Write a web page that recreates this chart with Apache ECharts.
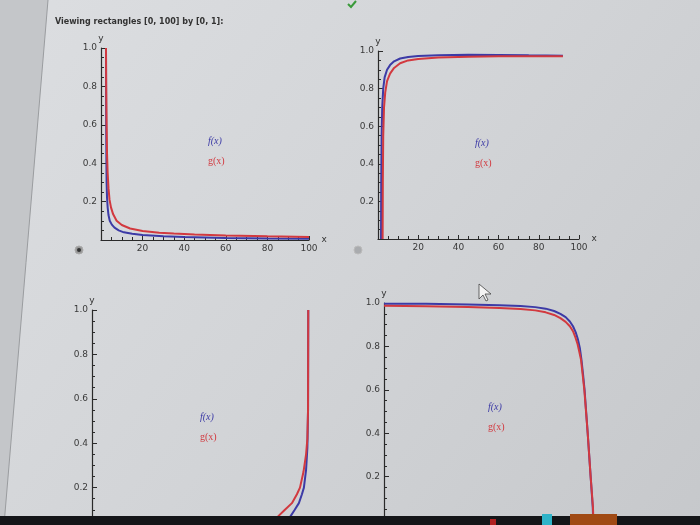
<!DOCTYPE html>
<html><head><meta charset="utf-8">
<script src="https://cdn.jsdelivr.net/npm/echarts@6/dist/echarts.min.js"></script>
<style>html,body{margin:0;padding:0;background:#d3d5d8;overflow:hidden}#c{width:700px;height:545px}</style>
</head><body><div id="c"></div>
<script>
// ---- data ----
const titleText = 'Viewing rectangles [0, 100] by [0, 1]:';
const xTicks = [20, 40, 60, 80, 100];
const yTicks = [0.2, 0.4, 0.6, 0.8, 1.0];
// panel 1 (top-left)
const f1 = [[2.4,1.0],[2.5,0.6],[2.6,0.4],[2.7,0.3],[2.9,0.22],[3.2,0.17],[3.6,0.13],[4.2,0.1],[5.2,0.08],[6.5,0.064],[8.5,0.05],[11,0.04],[15,0.032],[20,0.026],[30,0.019],[40,0.015],[60,0.011],[80,0.008],[100,0.006]];
const g1 = [[2.4,1.0],[2.5,0.8],[2.7,0.6],[2.9,0.45],[3.2,0.35],[3.6,0.27],[4.1,0.21],[4.8,0.17],[5.8,0.135],[7.5,0.1],[10,0.078],[14,0.06],[20,0.047],[28,0.038],[35,0.034],[45,0.029],[60,0.024],[80,0.019],[100,0.015]];
// panel 2 (top-right)
const f2 = [[1.5,0],[1.6,0.3],[1.8,0.55],[2.1,0.7],[2.6,0.8],[3.3,0.86],[4.5,0.9],[6,0.925],[8,0.945],[11,0.96],[15,0.968],[20,0.974],[30,0.978],[45,0.98],[60,0.979],[75,0.977],[92,0.975]];
const g2 = [[2.3,0],[2.4,0.3],[2.6,0.55],[3.0,0.7],[3.6,0.78],[4.5,0.84],[6,0.88],[8,0.91],[11,0.935],[15,0.95],[20,0.958],[30,0.965],[45,0.97],[60,0.972],[75,0.972],[92,0.972]];
// panel 3 (bottom-left)
const f3 = [[85,0],[88,0.035],[90.8,0.067],[93,0.1],[94.9,0.13],[96.3,0.17],[97.2,0.2],[98.2,0.28],[98.8,0.38],[99.1,0.55],[99.2,1.0]];
const g3 = [[75,0],[80,0.03],[85,0.067],[88.5,0.1],[91.7,0.13],[94,0.17],[95.4,0.2],[97,0.27],[98.2,0.35],[98.8,0.42],[99.1,0.55],[99.2,1.0]];
// panel 4 (bottom-right)
const f4 = [[0,0.997],[20,0.996],[40,0.993],[55,0.99],[65,0.986],[72,0.981],[77,0.974],[81,0.963],[84,0.95],[86.5,0.935],[88.5,0.915],[90,0.893],[91.3,0.865],[92.4,0.83],[93.3,0.79],[94,0.74],[94.8,0.67],[95.5,0.6],[97,0.4],[98.4,0.2],[99.4,0.06],[99.6,0]];
const g4 = [[0,0.987],[20,0.985],[40,0.981],[55,0.977],[65,0.972],[72,0.966],[77,0.957],[81,0.945],[84,0.93],[86.5,0.913],[88.5,0.893],[90,0.87],[91.2,0.84],[92.2,0.81],[93,0.775],[93.8,0.74],[94.6,0.67],[95.4,0.6],[97,0.4],[98.4,0.2],[99.5,0.06],[99.7,0]];

const blue = '#3c3aa6', red = '#d2393f';
const panels = [
  {grid:{left:101, top:48, width:208, height:192}, f:f1, g:g1, lab:[208,142]},
  {grid:{left:378, top:51, width:201, height:188}, f:f2, g:g2, lab:[475,144]},
  {grid:{left:92, top:310, width:218, height:222}, f:f3, g:g3, lab:[200,418]},
  {grid:{left:384, top:303, width:210, height:217}, f:f4, g:g4, lab:[488,408]}
];

const axisColor = '#2a2a2a';
const grids = [], xAxes = [], yAxes = [], series = [], graphics = [];

// background decorations
graphics.push({type:'polygon', shape:{points:[[0,0],[48,0],[4,525],[0,525]]}, style:{fill:'#c4c6c9'}, z:-10});
graphics.push({type:'polyline', shape:{points:[[48,0],[4,525]]}, style:{stroke:'#9a9c9f', lineWidth:1}, z:-9});

panels.forEach((p, i) => {
  grids.push(Object.assign({containLabel:false}, p.grid));
  xAxes.push({
    type:'value', gridIndex:i, min:0, max:100, interval:20,
    name:'x', nameGap:6, nameTextStyle:{color:'#333', fontSize:9, fontFamily:'DejaVu Sans'},
    axisLine:{onZero:false, lineStyle:{color:axisColor, width:1.2}},
    axisTick:{inside:true, length:4, lineStyle:{color:axisColor}},
    minorTick:{show:true, splitNumber:4, length:3, lineStyle:{color:axisColor}},
    splitLine:{show:false},
    axisLabel:{formatter: v => xTicks.includes(v) ? String(v) : '', fontSize:9, color:'#3a3a3a', fontFamily:'DejaVu Sans', margin:4}
  });
  yAxes.push({
    type:'value', gridIndex:i, min:0, max:1, interval:0.2,
    name:'y', nameGap:4, nameLocation:'end', nameTextStyle:{color:'#333', fontSize:9, fontFamily:'DejaVu Sans', align:'center'},
    axisLine:{onZero:false, lineStyle:{color:axisColor, width:1.2}},
    axisTick:{inside:true, length:5, lineStyle:{color:axisColor}},
    minorTick:{show:true, splitNumber:4, length:3, lineStyle:{color:axisColor}},
    splitLine:{show:false},
    axisLabel:{formatter: v => yTicks.some(t => Math.abs(t - v) < 1e-9) ? v.toFixed(1) : '', fontSize:9, color:'#3a3a3a', fontFamily:'DejaVu Sans', margin:4}
  });
  series.push({type:'line', xAxisIndex:i, yAxisIndex:i, data:p.f, showSymbol:false, lineStyle:{color:blue, width:2}, z:3, silent:true});
  series.push({type:'line', xAxisIndex:i, yAxisIndex:i, data:p.g, showSymbol:false, lineStyle:{color:red, width:2}, z:4, silent:true});
  graphics.push({type:'text', left:p.lab[0], top:p.lab[1]-6, style:{text:'f(x)', fill:blue, font:'italic 10px "Liberation Serif"'}});
  graphics.push({type:'text', left:p.lab[0], top:p.lab[1]+14, style:{text:'g(x)', fill:red, font:'10px "Liberation Serif"'}});
});

graphics.push({type:'text', left:55, top:18, style:{text:titleText, fill:'#333', font:'bold 8px "DejaVu Sans"'}});
// radio buttons
graphics.push({type:'circle', shape:{cx:79, cy:250, r:4}, style:{fill:'#999', stroke:'#aaa'}});
graphics.push({type:'circle', shape:{cx:79, cy:250, r:2}, style:{fill:'#333'}});
graphics.push({type:'circle', shape:{cx:358, cy:250, r:4}, style:{fill:'#a9abae', stroke:'#bbb'}});
// check mark
graphics.push({type:'polyline', shape:{points:[[348,4],[351,7],[356,1]]}, style:{stroke:'#3a9a3a', lineWidth:2}});
// cursor
graphics.push({type:'polygon', shape:{points:[[479,284],[479,299],[483,295],[486,301],[488,300],[485,294],[491,294]]}, style:{fill:'#f4f4f4', stroke:'#444', lineWidth:0.8}});
// taskbar
graphics.push({type:'rect', shape:{x:0, y:516, width:700, height:40}, style:{fill:'#141518'}, z:50});
graphics.push({type:'rect', shape:{x:570, y:514, width:47, height:30}, style:{fill:'#a04a14'}, z:51});
graphics.push({type:'rect', shape:{x:542, y:514, width:10, height:30}, style:{fill:'#2fb3c8'}, z:51});
graphics.push({type:'rect', shape:{x:490, y:519, width:6, height:20}, style:{fill:'#b02020'}, z:51});

const chart = echarts.init(document.getElementById('c'), null, {renderer:'canvas'});
chart.setOption({
  backgroundColor:{type:'linear', x:0, y:0, x2:1, y2:1, colorStops:[{offset:0, color:'#dcdee1'},{offset:0.5, color:'#d2d4d7'},{offset:1, color:'#c6c8cb'}]},
  animation:false,
  grid:grids, xAxis:xAxes, yAxis:yAxes, series:series, graphic:graphics
});
</script></body></html>
